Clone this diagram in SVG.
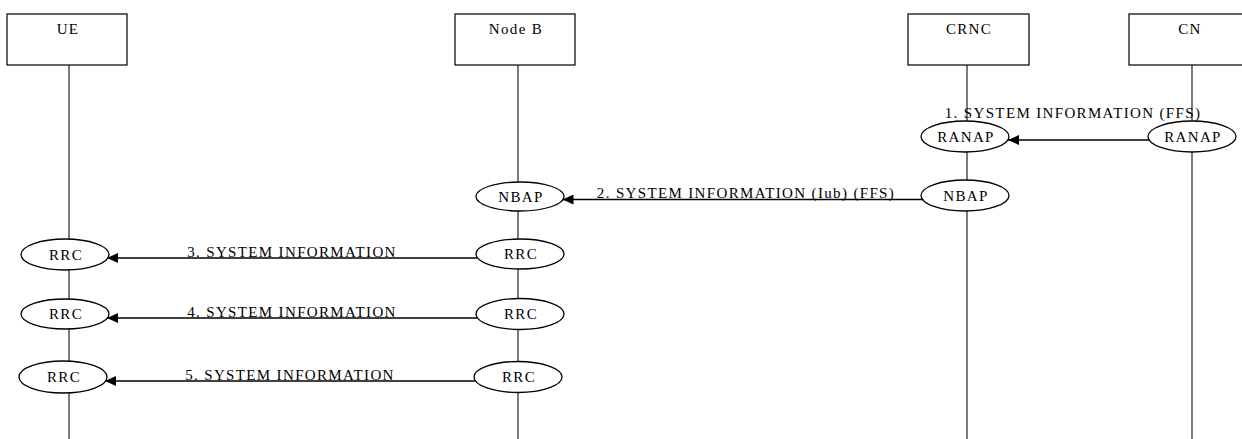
<svg xmlns="http://www.w3.org/2000/svg" width="1242" height="439" viewBox="0 0 1242 439">
<style>
  .box { fill: #ffffff; stroke: #000000; stroke-width: 1.2; }
  .life { stroke: #222222; stroke-width: 1.2; fill: none; }
  .ell { fill: #ffffff; stroke: #000000; stroke-width: 1.3; }
  .txt { font-family: "Liberation Serif", "Times New Roman", serif; font-size: 15px; letter-spacing: 1.35px; fill: #000000; text-anchor: middle; }
  .msg { stroke: #000000; stroke-width: 1.3; fill: none; marker-end: url(#ah); }
</style>
<defs>
  <marker id="ah" markerWidth="12" markerHeight="10" refX="11" refY="5" orient="auto" markerUnits="userSpaceOnUse">
    <path d="M0,0 L11,5 L0,10 z" fill="#000000"/>
  </marker>
</defs>
<rect width="1242" height="439" fill="#ffffff"/>

<g id="lifelines">
  <line class="life" x1="69" y1="65" x2="69" y2="439"/>
  <line class="life" x1="518" y1="65" x2="518" y2="439"/>
  <line class="life" x1="967" y1="65" x2="967" y2="439"/>
  <line class="life" x1="1192" y1="65" x2="1192" y2="439"/>
</g>

<g id="UE">
  <rect class="box" x="7" y="14" width="120" height="51"/>
  <text class="txt" x="68" y="34">UE</text>
</g>
<g id="NodeB">
  <rect class="box" x="455" y="14" width="120" height="51"/>
  <text class="txt" x="516" y="34">Node B</text>
</g>
<g id="CRNC">
  <rect class="box" x="908" y="14" width="121" height="51"/>
  <text class="txt" x="969" y="34">CRNC</text>
</g>
<g id="CN">
  <rect class="box" x="1129" y="14" width="121" height="51"/>
  <text class="txt" x="1190" y="34">CN</text>
</g>

<g id="CRNC_RANAP">
  <ellipse class="ell" cx="965" cy="136.5" rx="44" ry="15.5"/>
  <text class="txt" x="966" y="141.5">RANAP</text>
</g>
<g id="CN_RANAP">
  <ellipse class="ell" cx="1192" cy="136.5" rx="44" ry="15.5"/>
  <text class="txt" x="1193" y="141.5">RANAP</text>
</g>
<g id="CRNC_NBAP">
  <ellipse class="ell" cx="965" cy="195.5" rx="44" ry="15.5"/>
  <text class="txt" x="966" y="200.5">NBAP</text>
</g>
<g id="NodeB_NBAP">
  <ellipse class="ell" cx="520" cy="196.5" rx="44" ry="14.5"/>
  <text class="txt" x="521" y="201.5">NBAP</text>
</g>
<g id="NodeB_RRC1">
  <ellipse class="ell" cx="520" cy="254" rx="44" ry="15"/>
  <text class="txt" x="521" y="259">RRC</text>
</g>
<g id="NodeB_RRC2">
  <ellipse class="ell" cx="520" cy="314" rx="44" ry="15.5"/>
  <text class="txt" x="521" y="319">RRC</text>
</g>
<g id="NodeB_RRC3">
  <ellipse class="ell" cx="518" cy="377" rx="44" ry="15.5"/>
  <text class="txt" x="519" y="382">RRC</text>
</g>
<g id="UE_RRC1">
  <ellipse class="ell" cx="65" cy="254.5" rx="44" ry="15.5"/>
  <text class="txt" x="66" y="259.5">RRC</text>
</g>
<g id="UE_RRC2">
  <ellipse class="ell" cx="65" cy="314" rx="44" ry="15"/>
  <text class="txt" x="66" y="319">RRC</text>
</g>
<g id="UE_RRC3">
  <ellipse class="ell" cx="63" cy="377" rx="44" ry="16"/>
  <text class="txt" x="64" y="382">RRC</text>
</g>

<g id="connectors">
  <line class="msg" x1="1149" y1="140" x2="1008" y2="140"/>
  <text class="txt" x="1073" y="118">1. SYSTEM INFORMATION (FFS)</text>
  <line class="msg" x1="923" y1="199.5" x2="562.5" y2="199.5"/>
  <text class="txt" x="746" y="198">2. SYSTEM INFORMATION (Iub) (FFS)</text>
  <line class="msg" x1="477.5" y1="258" x2="107" y2="258"/>
  <text class="txt" x="292" y="257">3. SYSTEM INFORMATION</text>
  <line class="msg" x1="477.5" y1="318" x2="107" y2="318"/>
  <text class="txt" x="292" y="317">4. SYSTEM INFORMATION</text>
  <line class="msg" x1="475.5" y1="381" x2="105" y2="381"/>
  <text class="txt" x="290" y="380">5. SYSTEM INFORMATION</text>
</g>
</svg>
